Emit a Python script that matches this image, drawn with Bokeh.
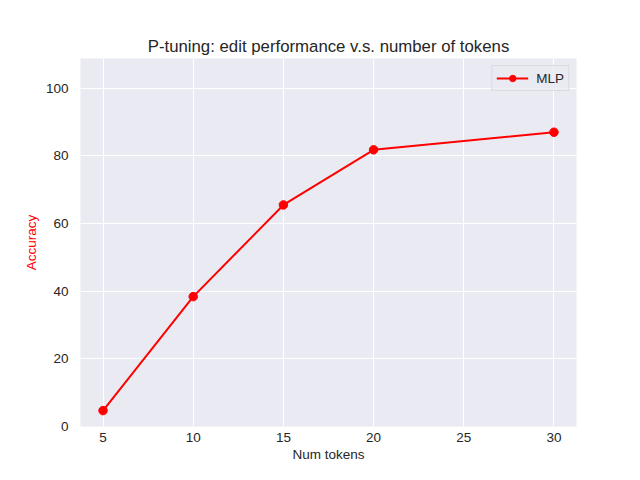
from bokeh.plotting import figure
from bokeh.models import Range1d, FixedTicker, Legend, LegendItem
from bokeh.embed import file_html
from bokeh.resources import INLINE

num_tokens = [5, 10, 15, 20, 30]
accuracy = [4.7, 38.4, 65.5, 81.8, 87.0]
x_ticks = [5, 10, 15, 20, 25, 30]
y_ticks = [0, 20, 40, 60, 80, 100]

FONT = "Liberation Sans"
TXT = "#262626"

p = figure(width=624, height=464, output_backend="svg", toolbar_location=None,
           x_range=Range1d(3.75, 31.25), y_range=Range1d(0, 108.8),
           title="P-tuning: edit performance v.s. number of tokens")
p.min_border_left = 80
p.min_border_right = 48
p.min_border_top = 58
p.min_border_bottom = 37
p.background_fill_color = "#EAEAF2"
p.border_fill_color = "white"
p.outline_line_color = None

p.title.align = "center"
p.title.text_font = FONT
p.title.text_font_size = "16.8px"
p.title.text_font_style = "normal"
p.title.text_color = TXT
p.title.standoff = 6

p.xgrid.grid_line_color = "white"
p.ygrid.grid_line_color = "white"
p.xgrid.grid_line_width = 1
p.ygrid.grid_line_width = 1

for ax in (p.xaxis[0], p.yaxis[0]):
    ax.axis_line_color = None
    ax.major_tick_line_color = None
    ax.minor_tick_line_color = None
    ax.major_tick_in = 0
    ax.major_tick_out = 0
    ax.major_label_text_font = FONT
    ax.major_label_text_font_size = "13.5px"
    ax.major_label_text_color = TXT
    ax.axis_label_text_font = FONT
    ax.axis_label_text_font_size = "13.5px"
    ax.axis_label_text_font_style = "normal"

p.xaxis.ticker = FixedTicker(ticks=x_ticks)
p.yaxis.ticker = FixedTicker(ticks=y_ticks)
p.xaxis.axis_label = "Num tokens"
p.xaxis.axis_label_text_color = TXT
p.yaxis.axis_label = "Accuracy"
p.yaxis.axis_label_text_color = "red"
p.xaxis.major_label_standoff = 6
p.yaxis.major_label_standoff = 12
p.xaxis.axis_label_standoff = 2
p.yaxis.axis_label_standoff = 4

ln = p.line(num_tokens, accuracy, line_color="red", line_width=2)
sc = p.scatter(num_tokens, accuracy, marker="circle", size=8.5,
               fill_color="red", line_color="red")

legend = Legend(items=[LegendItem(label="MLP", renderers=[ln, sc])],
                location="top_right")
legend.label_text_font = FONT
legend.label_text_font_size = "13.5px"
legend.label_text_color = TXT
legend.background_fill_color = "#EAEAF2"
legend.background_fill_alpha = 0.8
legend.border_line_color = "#CCCCCC"
legend.border_line_width = 1
legend.margin = 7
legend.padding = 4
legend.spacing = 0
legend.glyph_width = 32
legend.glyph_height = 16
legend.label_standoff = 8
p.add_layout(legend)

open("out.html", "w").write(file_html(p, INLINE))
